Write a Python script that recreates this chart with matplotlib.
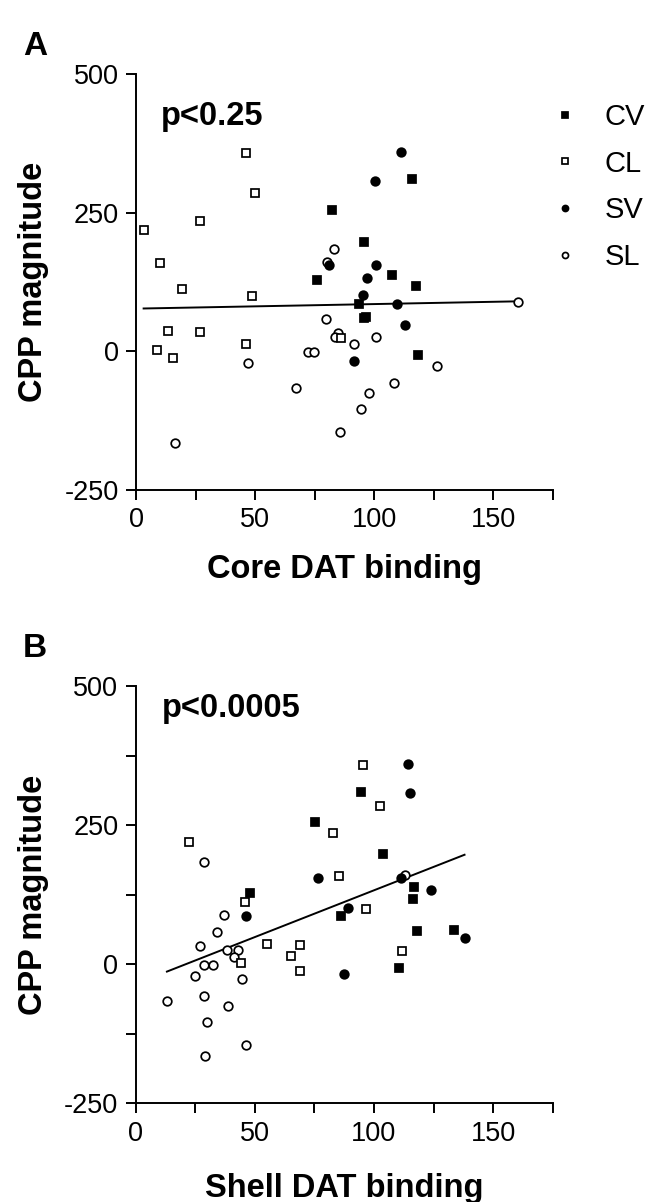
import numpy as np
import matplotlib
matplotlib.use("Agg")
import matplotlib.pyplot as plt
from matplotlib.ticker import MultipleLocator

plt.rcParams['font.family'] = ['Liberation Sans', 'DejaVu Sans']
plt.rcParams['axes.unicode_minus'] = False

# ---------------- data (one entry per subject) ----------------
groups = ["CV", "CL", "SV", "SL"]

cv_cpp   = [255, 310, 198, 138, 118, 128, 86, 60, 62, -6]
cv_core  = [82.5, 115.8, 95.8, 107.4, 117.6, 76.2, 93.8, 95.8, 96.6, 118.4]
cv_shell = [75.2, 94.6, 103.9, 116.6, 116.2, 48.1, 86.3, 117.9, 133.5, 110.3]

sv_cpp   = [360, 307, 155, 155, 133, 101, 86, 47, -18]
sv_core  = [111.1, 100.3, 100.8, 81.2, 96.9, 95.2, 109.5, 112.9, 91.7]
sv_shell = [114.1, 115.3, 76.4, 111.4, 124.0, 88.9, 46.4, 138.0, 87.3]

cl_cpp   = [358, 285, 235, 219, 159, 112, 99, 37, 34, 14, 3, -12, 24]
cl_core  = [46.2, 50.1, 27.0, 3.2, 10.0, 19.2, 48.7, 13.6, 27.0, 46.2, 8.7, 15.4, 86.1]
cl_shell = [95.3, 102.4, 82.7, 22.3, 85.5, 46.0, 96.6, 55.1, 69.1, 65.0, 44.3, 69.1, 111.6]

sl_cpp   = [184, 161, 89, 58, 33, 25, 26, 13, -2, -2, -21, -27, -66, -57, -75, -104, -146, -165]
sl_core  = [83.0, 80.4, 160.6, 80.0, 85.0, 83.5, 100.8, 91.7, 72.1, 74.6, 46.9, 126.6, 67.4, 108.5, 98.0, 94.5, 85.7, 16.3]
sl_shell = [28.8, 113.0, 36.9, 34.1, 27.1, 38.3, 42.8, 41.4, 28.8, 32.3, 24.7, 44.7, 13.1, 28.8, 38.7, 29.9, 46.1, 29.1]

p_labels = ["p<0.25", "p<0.0005"]
x_titles = ["Core DAT binding", "Shell DAT binding"]
panel_letters = ["A", "B"]
y_ticks = [-250, 0, 250, 500]
x_ticks = [0, 50, 100, 150]

# ---------------- layout ----------------
W, H = 653, 1202
fig = plt.figure(figsize=(W / 100, H / 100), dpi=100)


def rect(l, r, t, b):
    return [l / W, 1 - b / H, (r - l) / W, (b - t) / H]


panels = [
    dict(rect=(136, 552.7, 74, 490), xkey="core", yminor=False,
         ptext=(161, 125), letter=(23, 55), xlab_base=578),
    dict(rect=(135.7, 552.7, 686, 1103.3), xkey="shell", yminor=True,
         ptext=(162, 716.7), letter=(23, 657), xlab_base=1196.7),
]

styles = {
    "CV": dict(marker="s", mfc="black", mec="black"),
    "CL": dict(marker="s", mfc="white", mec="black"),
    "SV": dict(marker="o", mfc="black", mec="black"),
    "SL": dict(marker="o", mfc="white", mec="black"),
}
data = {
    "CV": (cv_cpp, cv_core, cv_shell),
    "CL": (cl_cpp, cl_core, cl_shell),
    "SV": (sv_cpp, sv_core, sv_shell),
    "SL": (sl_cpp, sl_core, sl_shell),
}

for i, pn in enumerate(panels):
    l, r, t, b = pn["rect"]
    ax = fig.add_axes(rect(l, r, t, b))
    handles = []
    allx, ally = [], []
    for g in ["SL", "SV", "CL", "CV"]:
        cpp, core, shell = data[g]
        xs = core if pn["xkey"] == "core" else shell
        h, = ax.plot(xs, cpp, linestyle="none", markersize=6.2,
                     markeredgewidth=1.25, clip_on=False, label=g, zorder=3,
                     **styles[g])
        handles.append((g, h))
        allx += list(xs)
        ally += list(cpp)
    allx = np.array(allx)
    ally = np.array(ally)
    slope, icpt = np.polyfit(allx, ally, 1)
    xl = np.array([allx.min(), allx.max()])
    ax.plot(xl, icpt + slope * xl, color="black", lw=1.4, zorder=2)

    ax.set_xlim(0, 175)
    ax.set_ylim(-250, 500)
    ax.set_xticks(x_ticks)
    ax.set_yticks(y_ticks)
    ax.xaxis.set_minor_locator(MultipleLocator(25))
    if pn["yminor"]:
        ax.yaxis.set_minor_locator(MultipleLocator(125))
    for s in ["top", "right"]:
        ax.spines[s].set_visible(False)
    for s in ["left", "bottom"]:
        ax.spines[s].set_linewidth(1.4)
    ax.tick_params(which="both", direction="out", width=1.4, length=7.5,
                   labelsize=19.5, pad=5)
    ax.tick_params(which="minor", length=7.5)

    ax.set_xlabel(x_titles[i], fontsize=23.5, fontweight="bold", va="baseline")
    ax.xaxis.set_label_coords(0.5, (b - pn["xlab_base"]) / (b - t))
    ax.set_ylabel("CPP magnitude", fontsize=23.5, fontweight="bold", va="baseline")
    ax.yaxis.set_label_coords((42 - l) / (r - l), 0.5)

    fig.text(pn["ptext"][0] / W, 1 - pn["ptext"][1] / H, p_labels[i],
             fontsize=23.5, fontweight="bold", ha="left", va="baseline")
    fig.text(pn["letter"][0] / W, 1 - pn["letter"][1] / H, panel_letters[i],
             fontsize=24, fontweight="bold", ha="left", va="baseline")

    if i == 0:
        hmap = dict(handles)
        ax.legend([hmap[g] for g in groups], groups, loc="upper left",
                  bbox_to_anchor=(550.5 / W, 1 - 103 / H),
                  bbox_transform=fig.transFigure, frameon=False,
                  fontsize=21, markerscale=0.7, numpoints=1,
                  handlelength=1.0, handletextpad=0.85,
                  labelspacing=0.64, borderpad=0, borderaxespad=0)

fig.savefig("out.png", dpi=100)
